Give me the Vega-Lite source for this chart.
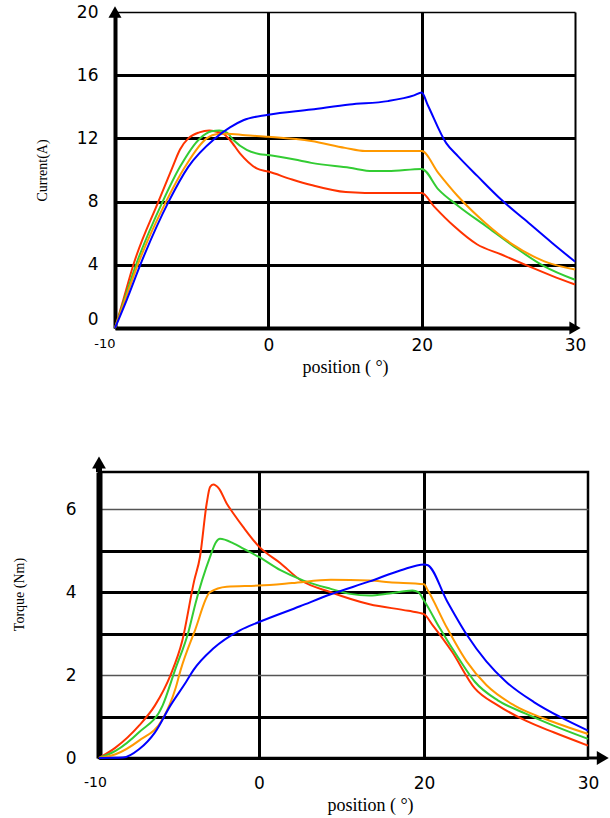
{
  "$schema": "https://vega.github.io/schema/vega-lite/v6.json",
  "background": "white",
  "padding": {"left": 10, "top": 3, "right": 0, "bottom": 0},
  "config": {"view": {"stroke": null}, "font": "Liberation Serif", "concat": {"spacing": 79}},
  "datasets": {
    "current": [
      {"curve": "A", "pos": -10, "val": 0}, {"curve": "A", "pos": -9.46, "val": 1.77}, {"curve": "A", "pos": -8.8, "val": 4}, {"curve": "A", "pos": -7.17, "val": 8}, {"curve": "A", "pos": -6.24, "val": 10.2}, {"curve": "A", "pos": -5.76, "val": 11.3}, {"curve": "A", "pos": -5.22, "val": 12}, {"curve": "A", "pos": -4.5, "val": 12.38}, {"curve": "A", "pos": -3.85, "val": 12.5}, {"curve": "A", "pos": -3.37, "val": 12.42}, {"curve": "A", "pos": -2.94, "val": 12.3}, {"curve": "A", "pos": -2.5, "val": 11.9}, {"curve": "A", "pos": -1.85, "val": 11.05}, {"curve": "A", "pos": -0.76, "val": 10.1}, {"curve": "A", "pos": 0, "val": 9.9}, {"curve": "A", "pos": 3.1, "val": 9.4}, {"curve": "A", "pos": 5.6, "val": 9.05}, {"curve": "A", "pos": 10.1, "val": 8.6}, {"curve": "A", "pos": 12.6, "val": 8.55}, {"curve": "A", "pos": 20, "val": 8.55}, {"curve": "A", "pos": 20.8, "val": 7.7}, {"curve": "A", "pos": 22.1, "val": 6.45}, {"curve": "A", "pos": 23.6, "val": 5.3}, {"curve": "A", "pos": 25.2, "val": 4.65}, {"curve": "A", "pos": 27, "val": 3.9}, {"curve": "A", "pos": 28.5, "val": 3.3}, {"curve": "A", "pos": 30, "val": 2.75},
      {"curve": "B", "pos": -10, "val": 0}, {"curve": "B", "pos": -9.4, "val": 1.77}, {"curve": "B", "pos": -8.63, "val": 4}, {"curve": "B", "pos": -6.89, "val": 8}, {"curve": "B", "pos": -5.76, "val": 10.2}, {"curve": "B", "pos": -4.46, "val": 12}, {"curve": "B", "pos": -3.7, "val": 12.45}, {"curve": "B", "pos": -3.2, "val": 12.5}, {"curve": "B", "pos": -2.72, "val": 12.38}, {"curve": "B", "pos": -2.28, "val": 11.9}, {"curve": "B", "pos": -1.41, "val": 11.27}, {"curve": "B", "pos": -0.54, "val": 11.0}, {"curve": "B", "pos": 0, "val": 10.95}, {"curve": "B", "pos": 4.1, "val": 10.6}, {"curve": "B", "pos": 5.6, "val": 10.45}, {"curve": "B", "pos": 10.6, "val": 10.14}, {"curve": "B", "pos": 13.6, "val": 9.93}, {"curve": "B", "pos": 15.6, "val": 9.93}, {"curve": "B", "pos": 20, "val": 10.07}, {"curve": "B", "pos": 21.1, "val": 8.76}, {"curve": "B", "pos": 22.4, "val": 7.71}, {"curve": "B", "pos": 24.2, "val": 6.44}, {"curve": "B", "pos": 26, "val": 5.17}, {"curve": "B", "pos": 28, "val": 3.9}, {"curve": "B", "pos": 30, "val": 3.05},
      {"curve": "C", "pos": -10, "val": 0}, {"curve": "C", "pos": -9.35, "val": 1.77}, {"curve": "C", "pos": -8.52, "val": 4}, {"curve": "C", "pos": -6.67, "val": 8}, {"curve": "C", "pos": -5.43, "val": 10.2}, {"curve": "C", "pos": -4.02, "val": 12}, {"curve": "C", "pos": -3.3, "val": 12.28}, {"curve": "C", "pos": -2.7, "val": 12.3}, {"curve": "C", "pos": -1.5, "val": 12.2}, {"curve": "C", "pos": 0, "val": 12.1}, {"curve": "C", "pos": 5.6, "val": 11.83}, {"curve": "C", "pos": 10, "val": 11.4}, {"curve": "C", "pos": 12.6, "val": 11.2}, {"curve": "C", "pos": 20, "val": 11.2}, {"curve": "C", "pos": 21.08, "val": 9.82}, {"curve": "C", "pos": 22.36, "val": 8.34}, {"curve": "C", "pos": 24.15, "val": 6.65}, {"curve": "C", "pos": 25.95, "val": 5.28}, {"curve": "C", "pos": 28, "val": 4.22}, {"curve": "C", "pos": 30, "val": 3.7},
      {"curve": "D", "pos": -10, "val": 0}, {"curve": "D", "pos": -9.24, "val": 1.77}, {"curve": "D", "pos": -8.35, "val": 4}, {"curve": "D", "pos": -6.5, "val": 8}, {"curve": "D", "pos": -5.22, "val": 10.2}, {"curve": "D", "pos": -3.48, "val": 12}, {"curve": "D", "pos": -2.5, "val": 12.7}, {"curve": "D", "pos": -1.63, "val": 13.15}, {"curve": "D", "pos": 0, "val": 13.5}, {"curve": "D", "pos": 5.6, "val": 13.83}, {"curve": "D", "pos": 10.6, "val": 14.15}, {"curve": "D", "pos": 15.6, "val": 14.36}, {"curve": "D", "pos": 19, "val": 14.72}, {"curve": "D", "pos": 20, "val": 14.9}, {"curve": "D", "pos": 20.4, "val": 14.1}, {"curve": "D", "pos": 21.6, "val": 11.7}, {"curve": "D", "pos": 22.36, "val": 10.88}, {"curve": "D", "pos": 23.64, "val": 9.61}, {"curve": "D", "pos": 25.18, "val": 8.13}, {"curve": "D", "pos": 26.72, "val": 6.86}, {"curve": "D", "pos": 28.51, "val": 5.38}, {"curve": "D", "pos": 30, "val": 4.2}
    ],
    "torque": [
      {"curve": "A", "pos": -10, "val": 0}, {"curve": "A", "pos": -8.97, "val": 0.25}, {"curve": "A", "pos": -7.5, "val": 0.78}, {"curve": "A", "pos": -6.5, "val": 1.27}, {"curve": "A", "pos": -5.53, "val": 2.0}, {"curve": "A", "pos": -4.8, "val": 2.82}, {"curve": "A", "pos": -4.05, "val": 4.28}, {"curve": "A", "pos": -3.69, "val": 4.85}, {"curve": "A", "pos": -3.27, "val": 6.14}, {"curve": "A", "pos": -3.06, "val": 6.54}, {"curve": "A", "pos": -2.86, "val": 6.6}, {"curve": "A", "pos": -2.5, "val": 6.5}, {"curve": "A", "pos": -2.02, "val": 6.14}, {"curve": "A", "pos": -1.6, "val": 5.9}, {"curve": "A", "pos": -0.98, "val": 5.57}, {"curve": "A", "pos": 0, "val": 5.1}, {"curve": "A", "pos": 2.6, "val": 4.7}, {"curve": "A", "pos": 4.97, "val": 4.3}, {"curve": "A", "pos": 8.7, "val": 4.0}, {"curve": "A", "pos": 13.4, "val": 3.71}, {"curve": "A", "pos": 18.1, "val": 3.55}, {"curve": "A", "pos": 20, "val": 3.47}, {"curve": "A", "pos": 20.5, "val": 3.22}, {"curve": "A", "pos": 21.7, "val": 2.57}, {"curve": "A", "pos": 23.1, "val": 1.68}, {"curve": "A", "pos": 24.5, "val": 1.27}, {"curve": "A", "pos": 26.2, "val": 0.9}, {"curve": "A", "pos": 27.9, "val": 0.62}, {"curve": "A", "pos": 30, "val": 0.3},
      {"curve": "B", "pos": -10, "val": 0}, {"curve": "B", "pos": -8.97, "val": 0.17}, {"curve": "B", "pos": -7.5, "val": 0.62}, {"curve": "B", "pos": -6.02, "val": 1.27}, {"curve": "B", "pos": -5.25, "val": 2.12}, {"curve": "B", "pos": -4.4, "val": 3.06}, {"curve": "B", "pos": -3.97, "val": 3.73}, {"curve": "B", "pos": -3.06, "val": 4.85}, {"curve": "B", "pos": -2.7, "val": 5.2}, {"curve": "B", "pos": -2.44, "val": 5.29}, {"curve": "B", "pos": -1.6, "val": 5.18}, {"curve": "B", "pos": -0.98, "val": 5.05}, {"curve": "B", "pos": 0, "val": 4.85}, {"curve": "B", "pos": 2.6, "val": 4.53}, {"curve": "B", "pos": 5.4, "val": 4.28}, {"curve": "B", "pos": 8.7, "val": 4.08}, {"curve": "B", "pos": 11.06, "val": 3.96}, {"curve": "B", "pos": 13.4, "val": 3.92}, {"curve": "B", "pos": 15.8, "val": 3.97}, {"curve": "B", "pos": 18.6, "val": 4.04}, {"curve": "B", "pos": 19.3, "val": 4.0}, {"curve": "B", "pos": 20, "val": 3.8}, {"curve": "B", "pos": 20.95, "val": 3.14}, {"curve": "B", "pos": 22.1, "val": 2.41}, {"curve": "B", "pos": 23.1, "val": 1.84}, {"curve": "B", "pos": 24.5, "val": 1.39}, {"curve": "B", "pos": 26.2, "val": 1.07}, {"curve": "B", "pos": 27.9, "val": 0.78}, {"curve": "B", "pos": 30, "val": 0.46},
      {"curve": "C", "pos": -10, "val": 0}, {"curve": "C", "pos": -8.97, "val": 0.09}, {"curve": "C", "pos": -7.5, "val": 0.42}, {"curve": "C", "pos": -6.02, "val": 0.94}, {"curve": "C", "pos": -5.2, "val": 1.7}, {"curve": "C", "pos": -4.9, "val": 2.12}, {"curve": "C", "pos": -4.0, "val": 3.08}, {"curve": "C", "pos": -3.06, "val": 4.0}, {"curve": "C", "pos": -2.02, "val": 4.13}, {"curve": "C", "pos": 0, "val": 4.16}, {"curve": "C", "pos": 4.0, "val": 4.22}, {"curve": "C", "pos": 8.7, "val": 4.3}, {"curve": "C", "pos": 13.4, "val": 4.28}, {"curve": "C", "pos": 15.8, "val": 4.24}, {"curve": "C", "pos": 20, "val": 4.19}, {"curve": "C", "pos": 20.24, "val": 4.04}, {"curve": "C", "pos": 21.4, "val": 3.14}, {"curve": "C", "pos": 22.6, "val": 2.33}, {"curve": "C", "pos": 23.8, "val": 1.76}, {"curve": "C", "pos": 25.5, "val": 1.27}, {"curve": "C", "pos": 27.4, "val": 0.94}, {"curve": "C", "pos": 30, "val": 0.58},
      {"curve": "D", "pos": -10, "val": 0}, {"curve": "D", "pos": -8.5, "val": 0.01}, {"curve": "D", "pos": -7.5, "val": 0.21}, {"curve": "D", "pos": -6.5, "val": 0.62}, {"curve": "D", "pos": -5.53, "val": 1.27}, {"curve": "D", "pos": -4.55, "val": 1.84}, {"curve": "D", "pos": -4.1, "val": 2.12}, {"curve": "D", "pos": -2.86, "val": 2.64}, {"curve": "D", "pos": -1.19, "val": 3.08}, {"curve": "D", "pos": 0, "val": 3.28}, {"curve": "D", "pos": 4.97, "val": 3.66}, {"curve": "D", "pos": 8.7, "val": 3.95}, {"curve": "D", "pos": 13.4, "val": 4.26}, {"curve": "D", "pos": 17.2, "val": 4.53}, {"curve": "D", "pos": 20, "val": 4.67}, {"curve": "D", "pos": 20.24, "val": 4.65}, {"curve": "D", "pos": 21.4, "val": 3.79}, {"curve": "D", "pos": 22.6, "val": 2.98}, {"curve": "D", "pos": 23.8, "val": 2.33}, {"curve": "D", "pos": 25, "val": 1.84}, {"curve": "D", "pos": 26.7, "val": 1.35}, {"curve": "D", "pos": 28.3, "val": 0.99}, {"curve": "D", "pos": 30, "val": 0.66}
    ]
  },
  "vconcat": [
    {
      "width": 476,
      "height": 316,
      "layer": [
        {
          "data": {"name": "current"},
          "mark": {"type": "line", "strokeWidth": 2, "interpolate": "monotone"},
          "encoding": {
            "x": {
              "field": "pos", "type": "quantitative",
              "scale": {"domain": [-10, 0, 20, 30], "range": [16, 169.3, 322.7, 476], "nice": false, "zero": false},
              "axis": {
                "values": [-10, 0, 20, 30], "title": "position ( °)",
                "labelExpr": "datum.value == -10 ? '-10' : datum.label",
                "titleFont": "Liberation Serif", "titleFontSize": 18, "titleFontWeight": "normal", "titleColor": "black", "titlePadding": 5,
                "labelFont": "DejaVu Sans", "labelColor": "black",
                "labelFontSize": {"condition": {"test": "datum.value == -10", "value": 13}, "value": 17},
                "labelAlign": {"condition": {"test": "datum.value == -10", "value": "right"}, "value": "center"},
                "labelPadding": 9, "labelFlush": false, "labelOverlap": false,
                "ticks": false, "domainColor": "black", "domainWidth": 4,
                "grid": true, "gridColor": "black", "gridOpacity": 1,
                "gridWidth": {"condition": {"test": "datum.value == 30", "value": 2}, "value": 3}
              }
            },
            "y": {
              "field": "val", "type": "quantitative",
              "scale": {"domain": [0, 20], "nice": false},
              "axis": {
                "values": [0, 4, 8, 12, 16, 20], "title": "Current(A)", "offset": -16,
                "titleFont": "Liberation Serif", "titleFontSize": 14, "titleFontWeight": "normal", "titleColor": "black", "titlePadding": 27,
                "labelFont": "DejaVu Sans", "labelColor": "black", "labelFontSize": 17, "labelPadding": 17,
                "labelBaseline": {"condition": {"test": "datum.value == 0", "value": "bottom"}, "value": "middle"},
                "ticks": false, "domainColor": "black", "domainWidth": 4,
                "grid": true, "gridColor": "black", "gridOpacity": 1,
                "gridWidth": {"condition": {"test": "datum.value == 20", "value": 1.5}, "value": 3}
              }
            },
            "color": {"field": "curve", "type": "nominal", "scale": {"domain": ["A", "B", "C", "D"], "range": ["#ff3300", "#33cc33", "#ff9900", "#0000ff"]}, "legend": null}
          }
        },
        {
          "data": {"values": [{}]},
          "mark": {"type": "point", "shape": "triangle-up", "filled": true, "color": "black", "opacity": 1, "size": 170},
          "encoding": {"x": {"datum": -10}, "y": {"datum": 20}}
        },
        {
          "data": {"values": [{}]},
          "mark": {"type": "point", "shape": "triangle-right", "filled": true, "color": "black", "opacity": 1, "size": 170},
          "encoding": {"x": {"datum": 30}, "y": {"datum": 0}}
        }
      ]
    },
    {
      "width": 489,
      "height": 286,
      "view": {"stroke": "black", "strokeWidth": 2.5},
      "layer": [
        {
          "data": {"name": "torque"},
          "mark": {"type": "line", "strokeWidth": 2, "interpolate": "monotone"},
          "encoding": {
            "x": {
              "field": "pos", "type": "quantitative",
              "scale": {"domain": [-10, 0, 20, 30], "range": [0, 160, 325, 489], "nice": false, "zero": false},
              "axis": {
                "values": [-10, 0, 20, 30], "title": "position ( °)",
                "labelExpr": "datum.value == -10 ? '-10' : datum.label",
                "titleFont": "Liberation Serif", "titleFontSize": 18, "titleFontWeight": "normal", "titleColor": "black", "titlePadding": 5, "titleX": 271,
                "labelFont": "DejaVu Sans", "labelColor": "black",
                "labelFontSize": {"condition": {"test": "datum.value == -10", "value": 14}, "value": 17},
                "labelOffset": {"condition": {"test": "datum.value == -10", "value": -4}, "value": 0},
                "labelPadding": 17, "labelFlush": false, "labelOverlap": false,
                "ticks": false, "domainColor": "black", "domainWidth": 3,
                "grid": true, "gridColor": "black", "gridOpacity": 1,
                "gridWidth": {"condition": {"test": "datum.value == 30 || datum.value == -10", "value": 0}, "value": 3}
              }
            },
            "y": {
              "field": "val", "type": "quantitative",
              "scale": {"domain": [0, 6.9], "nice": false},
              "axis": {
                "values": [0, 1, 2, 3, 4, 5, 6], "title": "Torque (Nm)",
                "labelExpr": "datum.value % 2 == 0 ? datum.label : ''",
                "titleFont": "Liberation Serif", "titleFontSize": 14, "titleFontWeight": "normal", "titleColor": "black", "titlePadding": 39, "titleY": 122,
                "labelFont": "DejaVu Sans", "labelColor": "black", "labelFontSize": 17, "labelPadding": 23,
                "ticks": false, "domainColor": "black", "domainWidth": 6,
                "grid": true, "gridColor": {"condition": {"test": "datum.value == 2 || datum.value == 6", "value": "#555555"}, "value": "black"}, "gridOpacity": 1,
                "gridWidth": {"condition": {"test": "datum.value == 2 || datum.value == 6", "value": 1.5}, "value": 3}
              }
            },
            "color": {"field": "curve", "type": "nominal", "scale": {"domain": ["A", "B", "C", "D"], "range": ["#ff3300", "#33cc33", "#ff9900", "#0000ff"]}, "legend": null}
          }
        },
        {
          "data": {"values": [{}]},
          "mark": {"type": "rule", "color": "black", "strokeWidth": 6},
          "encoding": {"x": {"datum": -10}, "y": {"datum": 6.9}, "y2": {"datum": 7.05}}
        },
        {
          "data": {"values": [{}]},
          "mark": {"type": "rule", "color": "black", "strokeWidth": 3},
          "encoding": {"x": {"datum": 30}, "x2": {"datum": 30.7}, "y": {"datum": 0}}
        },
        {
          "data": {"values": [{}]},
          "mark": {"type": "point", "shape": "triangle-up", "filled": true, "color": "black", "opacity": 1, "size": 190},
          "encoding": {"x": {"datum": -10}, "y": {"datum": 7.13}}
        },
        {
          "data": {"values": [{}]},
          "mark": {"type": "point", "shape": "triangle-right", "filled": true, "color": "black", "opacity": 1, "size": 190},
          "encoding": {"x": {"datum": 30.9}, "y": {"datum": 0}}
        }
      ]
    }
  ]
}
